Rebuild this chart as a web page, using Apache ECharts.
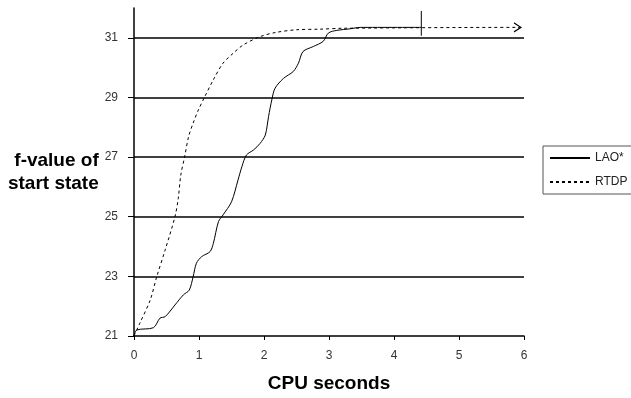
<!DOCTYPE html>
<html><head><meta charset="utf-8">
<script src="https://cdn.jsdelivr.net/npm/echarts@6/dist/echarts.min.js"></script>
<style>html,body{margin:0;padding:0;background:#fff}#c{width:631px;height:398px}</style>
</head><body><div id="c"></div>
<script>
var xTicks = [0, 1, 2, 3, 4, 5, 6];
var yTicks = [21, 23, 25, 27, 29, 31];
var seriesNames = ['LAO*', 'RTDP'];
var laoX = [0, 0.04, 0.30, 0.40, 0.48, 0.63, 0.76, 0.85, 0.91, 0.96, 1.04, 1.17, 1.22, 1.30, 1.37, 1.50, 1.60, 1.66, 1.73, 1.84, 1.94, 2.02, 2.07, 2.12, 2.17, 2.30, 2.45, 2.53, 2.60, 2.76, 2.91, 2.99, 3.12, 3.32, 3.48, 4.42];
var laoY = [21.0, 21.2, 21.28, 21.6, 21.65, 22.04, 22.38, 22.54, 22.99, 23.44, 23.66, 23.83, 24.1, 24.84, 25.06, 25.5, 26.23, 26.68, 27.07, 27.24, 27.46, 27.74, 28.36, 28.92, 29.31, 29.64, 29.87, 30.15, 30.54, 30.71, 30.88, 31.16, 31.25, 31.3, 31.35, 31.35];
var rtdpX = [0, 0.09, 0.25, 0.35, 0.48, 0.63, 0.68, 0.72, 0.78, 0.84, 0.91, 0.99, 1.09, 1.22, 1.37, 1.53, 1.68, 1.94, 2.18, 2.50, 2.86, 3.22, 5.9, 6.0];
var rtdpY = [21.0, 21.43, 22.21, 22.99, 23.89, 25.0, 25.6, 26.4, 27.02, 27.69, 28.14, 28.58, 29.03, 29.59, 30.15, 30.49, 30.76, 31.04, 31.18, 31.27, 31.29, 31.32, 31.35, 31.35];
var laoEndMarkX = [4.42, 4.42];
var laoEndMarkY = [31.07, 31.9];
var arrowIndex = 22;

function zip(a, b) { return a.map(function (v, i) { return [v, b[i]]; }); }

var rtdpData = zip(rtdpX, rtdpY).map(function (p, i) {
  if (i === arrowIndex) {
    return { value: p, symbol: 'path://M0,0L10,6L0,12', symbolSize: [7, 9],
      itemStyle: { color: 'rgba(0,0,0,0)', borderColor: '#000', borderWidth: 1 } };
  }
  return { value: p, symbol: 'none' };
});

var chart = echarts.init(document.getElementById('c'), null, { renderer: 'canvas' });
var font = '"Liberation Sans", Arial, sans-serif';
chart.setOption({
  animation: false,
  textStyle: { fontFamily: font },
  grid: { left: 134, right: 107, top: 8, bottom: 62, containLabel: false },
  legend: {
    data: seriesNames,
    orient: 'vertical', left: 543, top: 146,
    itemWidth: 40, itemHeight: 12, itemGap: 12,
    padding: [6, 5, 6, 6],
    borderColor: '#555', borderWidth: 1,
    itemStyle: { opacity: 0 },
    textStyle: { fontSize: 12, color: '#222', fontFamily: font, padding: [0, 0, 0, 0] }
  },
  xAxis: {
    type: 'value', min: 0, max: 6, interval: 1,
    name: 'CPU seconds', nameLocation: 'middle', nameGap: 38,
    nameTextStyle: { fontSize: 19, fontWeight: 'bold', color: '#000', fontFamily: font },
    axisLine: { lineStyle: { color: '#000', width: 1.5 } },
    axisTick: { show: true, length: 4, lineStyle: { color: '#000' } },
    axisLabel: { margin: 14, fontSize: 12, color: '#333', fontFamily: font },
    splitLine: { show: false }
  },
  yAxis: {
    type: 'value', min: 21, max: 32,
    name: 'f-value of\nstart state', nameLocation: 'middle', nameRotate: 0, nameGap: 34,
    nameTextStyle: { fontSize: 19, fontWeight: 'bold', color: '#000', align: 'right', verticalAlign: 'middle', lineHeight: 23, fontFamily: font, padding: [0, 0, 18, 0] },
    axisLine: { show: true, lineStyle: { color: '#000', width: 1.5 } },
    axisTick: { show: true, length: 6, customValues: yTicks, lineStyle: { color: '#000' } },
    axisLabel: { margin: 16, fontSize: 12, color: '#333', customValues: yTicks, fontFamily: font },
    splitLine: { show: false }
  },
  series: [
    {
      name: seriesNames[0], type: 'line', data: zip(laoX, laoY),
      showSymbol: false, symbol: 'none', smooth: 0.3,
      lineStyle: { color: '#000', width: 1, type: 'solid' },
      itemStyle: { color: '#000' },
      markLine: {
        silent: true, symbol: 'none', label: { show: false },
        lineStyle: { color: '#000', width: 1.5, type: 'solid' },
        data: yTicks.slice(1).map(function (v) { return { yAxis: v }; })
      },
      z: 3
    },
    {
      name: seriesNames[1], type: 'line', data: rtdpData,
      showSymbol: true, smooth: 0.3,
      lineStyle: { color: '#000', width: 1, type: [3, 3] },
      itemStyle: { color: '#000' },
      z: 3
    },
    {
      name: 'laoEnd', type: 'line', data: zip(laoEndMarkX, laoEndMarkY),
      symbol: 'none', lineStyle: { color: '#000', width: 1 }, z: 4
    }
  ]
});
</script></body></html>
